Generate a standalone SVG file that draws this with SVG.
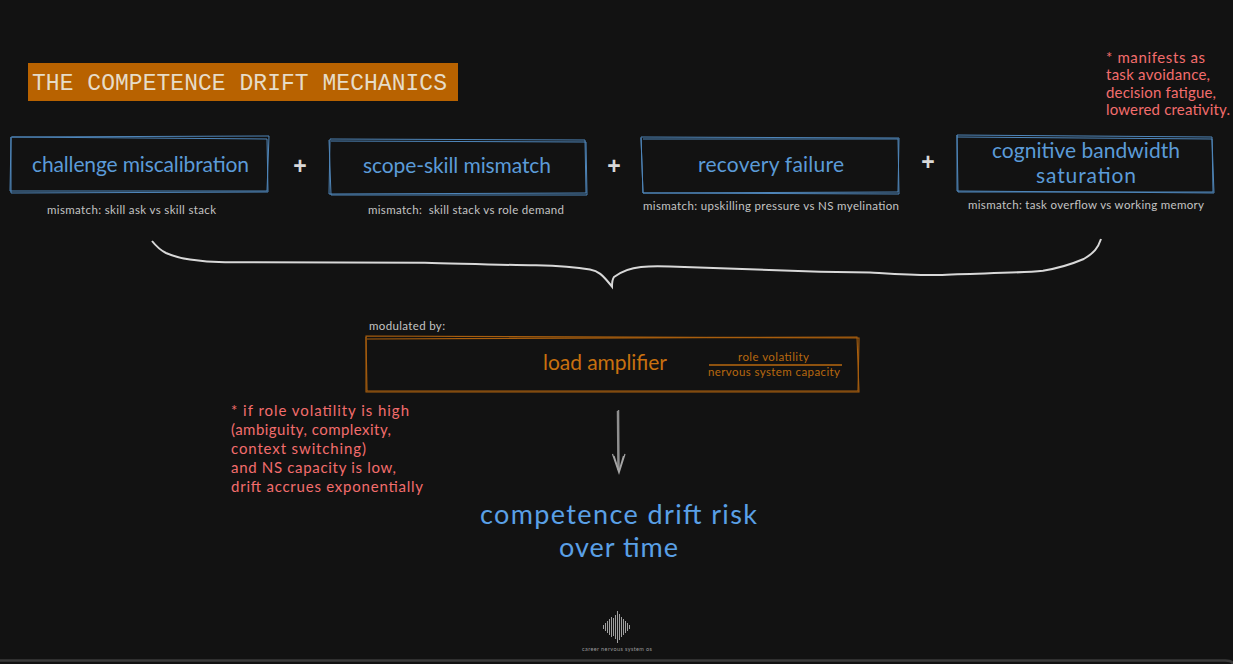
<svg xmlns="http://www.w3.org/2000/svg" width="1233" height="664" viewBox="0 0 1233 664">
<style>
.hand{font-family:"Lato","Open Sans",sans-serif}
.blue{fill:#5b9bd8;font-size:21px}
.red{fill:#f26d6d;font-size:15px}
.small{font-family:"Lato","Noto Sans",sans-serif;font-size:11.500px;fill:#c4c4c4}
.box{fill:none;stroke:#4f86ba;stroke-width:1}
.obox{fill:none;stroke:#a85e0e;stroke-width:1.100}
.plus{font-family:"Liberation Sans",sans-serif;font-size:23px;font-weight:bold;fill:#d8d8d8;text-anchor:middle}
.wave{stroke:#a0a0a0;stroke-width:1;fill:none}
</style>
<rect width="1233" height="664" fill="#121212"/>
<g id="title">
<rect x="28" y="63" width="430" height="38" fill="#b86200"/>
<text x="32" y="90" font-family="Liberation Mono,monospace" font-size="23" fill="#e6dcc8" textLength="415">THE COMPETENCE DRIFT MECHANICS</text>
</g>
<g id="node-challenge">
<path class="box" d="M11 137L269 136L267 191L10 191Z"/><path class="box" d="M12 137L267 139L268 192L11 193L11 137"/>
<text class="hand blue" x="32" y="172" textLength="217">challenge miscalibration</text>
<text class="small" x="47" y="214" textLength="169">mismatch: skill ask vs skill stack</text>
</g>
<text class="plus" x="300" y="174">+</text>
<g id="node-scope">
<path class="box" d="M330 139L585 140L586 193L329 194Z"/><path class="box" d="M331 141L586 142L587 195L331 195L329 140"/>
<text class="hand blue" x="363" y="173" textLength="188">scope-skill mismatch</text>
<text class="small" x="368" y="214" textLength="196" xml:space="preserve">mismatch:  skill stack vs role demand</text>
</g>
<text class="plus" x="614" y="174">+</text>
<g id="node-recovery">
<path class="box" d="M641 137L899 138L898 192L643 193Z"/><path class="box" d="M643 139L898 139L899 194L643 193L641 138"/>
<text class="hand blue" x="698" y="172" textLength="146">recovery failure</text>
<text class="small" x="643" y="210" textLength="256">mismatch: upskilling pressure vs NS myelination</text>
</g>
<text class="plus" x="928" y="170">+</text>
<g id="node-cognitive">
<path class="box" d="M957 135L1212 137L1213 192L958 192Z"/><path class="box" d="M957 137L1212 139L1214 193L957 191L957 135"/>
<text class="hand blue" x="992" y="158" textLength="188">cognitive bandwidth</text>
<text class="hand blue" x="1036" y="183" textLength="100">saturation</text>
<text class="small" x="968" y="209" textLength="236">mismatch: task overflow vs working memory</text>
</g>
<g id="note-manifests" class="hand red">
<text x="1106" y="63" textLength="99">* manifests as</text>
<text x="1106" y="80" textLength="104">task avoidance,</text>
<text x="1106" y="98" textLength="110">decision fatigue,</text>
<text x="1106" y="115" textLength="124">lowered creativity.</text>
</g>
<g id="connectors">
<path d="M152 241C156 246 160 250 166 253C175 257 182 258.500 190 259.500C200 261 210 262 225 262.300L425 262.700C460 263.500 500 265 536 265.300C555 265.800 575 267 590 269.500C598 271 602 274 612 286.700C612 282 612.500 279 614 277C622 271 630 268 641 267C650 266 660 266 670 266.500L820 271.700L870 272.500C895 274 915 275.500 938 275C975 273 1015 273.500 1043 270.700C1060 268 1072 264 1083.700 259C1094 253 1098 248 1101 239" fill="none" stroke="#d8d8d8" stroke-width="2"/>
<path d="M618.500 410L619 472M617.500 411L618 470" fill="none" stroke="#8f8f8f" stroke-width="1.500"/>
<path d="M612.500 454L619 473L625 454M614 456L619 471L623.500 456" fill="none" stroke="#a5a5a5" stroke-width="1.200"/>
</g>
<g id="node-load">
<text class="small" x="369" y="330" textLength="76">modulated by:</text>
<path class="obox" d="M366 336L859 338L858 391L367 391Z"/><path class="obox" d="M367 339L857 337L859 392L366 392L366 337"/>
<text class="hand" x="543" y="370" font-size="21" fill="#c8700f" textLength="124">load amplifier</text>
<text class="small" x="738" y="361" style="fill:#b8680f" textLength="71">role volatility</text>
<path d="M709 365L842 365" stroke="#b8680f" stroke-width="1.300"/>
<text class="small" x="708" y="376" style="fill:#b8680f" textLength="132">nervous system capacity</text>
</g>
<g id="note-volatility" class="hand red">
<text x="231" y="416" textLength="178">* if role volatility is high</text>
<text x="231" y="435" textLength="160">(ambiguity, complexity,</text>
<text x="231" y="454" textLength="135">context switching)</text>
<text x="231" y="473" textLength="165">and NS capacity is low,</text>
<text x="231" y="492" textLength="192">drift accrues exponentially</text>
</g>
<g id="result" class="hand" fill="#5aa0e6" font-size="27">
<text x="480" y="524" textLength="277">competence drift risk</text>
<text x="559" y="557" textLength="119">over time</text>
</g>
<g id="logo">
<path class="wave" d="M603.500 625v4M605.500 623v8M607.500 621v12M609.500 619v16M611.500 617v20M613.500 618v18M615.500 615v24M617.500 611v32M619.500 614v26M621.500 617v20M623.500 619v16M625.500 621v12M627.500 623v8M629.500 625v4"/>
<text x="582" y="651" font-family="Lato,sans-serif" font-size="5.500" fill="#9a9a9a" textLength="70">career nervous system os</text>
</g>
<path d="M0 660.500H1225Q1232 660.500 1233 664" fill="none" stroke="#3a3a3a" stroke-width="2.500"/>
</svg>
